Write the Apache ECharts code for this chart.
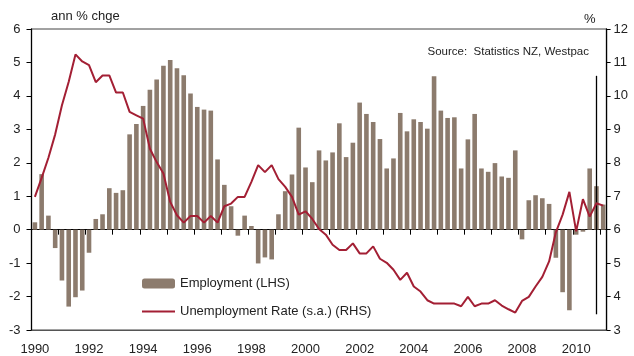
<!DOCTYPE html>
<html>
<head>
<meta charset="utf-8">
<script src="https://cdn.jsdelivr.net/npm/echarts@6/dist/echarts.min.js"></script>
<style>
html,body{margin:0;padding:0;background:#fff;}
#chart{width:634px;height:356px;}
</style>
</head>
<body>
<div id="chart"></div>
<script>
// Quarterly categories 1990 Q1 .. 2011 Q1
const firstYear = 1990;
const quarterCount = 85;
const categories = [];
for (let i = 0; i < quarterCount; i++) {
  categories.push((firstYear + Math.floor(i / 4)) + ' Q' + (i % 4 + 1));
}
const tickLabels = ['1990','1992','1994','1996','1998','2000','2002','2004','2006','2008','2010'];

// Employment, annual % change (LHS)
const employment = [
  0.22, 1.66, 0.42, -0.55, -1.52, -2.30, -2.02, -1.82, -0.69, 0.32,
  0.46, 1.24, 1.10, 1.18, 2.85, 3.16, 3.70, 4.18, 4.49, 4.90,
  5.07, 4.83, 4.62, 4.07, 3.67, 3.59, 3.56, 2.10, 1.34, 0.70,
  -0.18, 0.42, 0.11, -1.01, -0.83, -0.89, 0.46, 1.15, 1.65, 3.05,
  1.86, 1.42, 2.37, 2.07, 2.31, 3.18, 2.17, 2.60, 3.80, 3.46,
  3.22, 2.71, 1.83, 2.13, 3.49, 2.94, 3.30, 3.22, 3.02, 4.59,
  3.56, 3.34, 3.36, 1.83, 2.70, 3.46, 1.83, 1.73, 1.99, 1.59,
  1.55, 2.37, -0.29, 0.88, 1.03, 0.94, 0.77, -0.84, -1.87, -2.41,
  -0.15, -0.06, 1.83, 1.30, 0.75
];

// Unemployment rate, s.a., % (RHS)
const unemployment = [
  6.98, 7.55, 8.15, 8.85, 9.72, 10.42, 11.24, 11.03, 10.92, 10.41,
  10.61, 10.61, 10.10, 10.10, 9.52, 9.42, 9.32, 8.42, 8.02, 7.68,
  6.83, 6.43, 6.21, 6.41, 6.41, 6.21, 6.41, 6.21, 6.70, 6.78,
  6.98, 6.98, 7.43, 7.93, 7.72, 7.93, 7.51, 7.28, 6.98, 6.45,
  6.55, 6.32, 6.02, 5.85, 5.55, 5.39, 5.39, 5.59, 5.29, 5.29,
  5.50, 5.13, 5.01, 4.80, 4.50, 4.71, 4.30, 4.15, 3.89, 3.79,
  3.79, 3.79, 3.79, 3.71, 3.99, 3.71, 3.79, 3.79, 3.89, 3.73,
  3.62, 3.52, 3.87, 3.99, 4.30, 4.59, 5.05, 5.92, 6.45, 7.13,
  5.95, 6.91, 6.39, 6.79, 6.72
];

// Vertical marker line (category, top value, bottom value on LHS scale)
const markerCategory = '2010 Q4';
const markerRange = [4.6, -2.53];

const FONT = '"Liberation Sans", Arial, sans-serif';
const chart = echarts.init(document.getElementById('chart'), null, {renderer: 'canvas'});

chart.setOption({
  animation: false,
  backgroundColor: '#fff',
  textStyle: {fontFamily: FONT},
  grid: {left: 31.5, right: 27.4, top: 29, bottom: 26, show: true, borderColor: '#444', borderWidth: 1},
  graphic: [
    {type: 'text', left: 51, top: 10, style: {text: 'ann % chge', fill: '#222', font: '13px ' + FONT}},
    {type: 'text', left: 584, top: 13, style: {text: '%', fill: '#222', font: '13px ' + FONT}},
    {type: 'text', right: 45, top: 46, style: {text: 'Source:  Statistics NZ, Westpac', fill: '#222', font: '11.5px ' + FONT}}
  ],
  legend: {
    orient: 'vertical',
    left: 136,
    top: 272,
    itemWidth: 33,
    itemHeight: 10,
    itemGap: 15,
    textStyle: {fontSize: 13, color: '#222', fontFamily: FONT},
    data: [
      {name: 'Employment (LHS)'},
      {name: 'Unemployment Rate (s.a.) (RHS)', itemStyle: {color: 'rgba(0,0,0,0)', borderWidth: 0, opacity: 0}}
    ]
  },
  xAxis: [
    {
      type: 'category',
      data: categories,
      position: 'bottom',
      boundaryGap: true,
      axisLine: {onZero: false, lineStyle: {color: '#555', width: 1}},
      axisTick: {show: false},
      axisLabel: {
        interval: function (index) { return index % 8 === 0; },
        formatter: function (value) { const y = value.slice(0, 4); return tickLabels.indexOf(y) >= 0 ? y : ''; },
        fontSize: 13, color: '#222', margin: 13, fontFamily: FONT
      },
      splitLine: {show: false}
    },
    {
      type: 'category',
      data: categories,
      position: 'bottom',
      boundaryGap: true,
      axisLine: {onZero: true, onZeroAxisIndex: 0, lineStyle: {color: '#000', width: 1}},
      axisTick: {show: true, interval: function (index) { return index % 4 === 0; }, length: 5, lineStyle: {color: '#000'}},
      axisLabel: {show: false},
      splitLine: {show: false}
    }
  ],
  yAxis: [
    {
      type: 'value', position: 'left', min: -3, max: 6, interval: 1,
      axisLine: {show: true, onZero: false, lineStyle: {color: '#000', width: 1.3}},
      axisTick: {show: true, length: 5, lineStyle: {color: '#000'}},
      axisLabel: {fontSize: 13, color: '#222', margin: 11, fontFamily: FONT},
      splitLine: {show: false}
    },
    {
      type: 'value', position: 'right', min: 3, max: 12, interval: 1,
      axisLine: {show: true, onZero: false, lineStyle: {color: '#000', width: 1.3}},
      axisTick: {show: true, length: 4, lineStyle: {color: '#000'}},
      axisLabel: {fontSize: 13, color: '#222', margin: 7, fontFamily: FONT},
      splitLine: {show: false}
    }
  ],
  series: [
    {
      name: 'Employment (LHS)',
      type: 'bar',
      xAxisIndex: 0,
      yAxisIndex: 0,
      data: employment,
      barWidth: 4.6,
      itemStyle: {color: '#8c7b6d'},
      markLine: {
        silent: true,
        symbol: ['none', 'none'],
        label: {show: false},
        lineStyle: {color: '#000', width: 1.3, type: 'solid'},
        data: [[{coord: [markerCategory, markerRange[0]]}, {coord: [markerCategory, markerRange[1]]}]]
      }
    },
    {
      name: 'Unemployment Rate (s.a.) (RHS)',
      type: 'line',
      xAxisIndex: 0,
      yAxisIndex: 1,
      data: unemployment,
      symbol: 'none',
      lineStyle: {color: '#a31f34', width: 2},
      itemStyle: {color: '#a31f34'},
      z: 5
    }
  ]
});
</script>
</body>
</html>
